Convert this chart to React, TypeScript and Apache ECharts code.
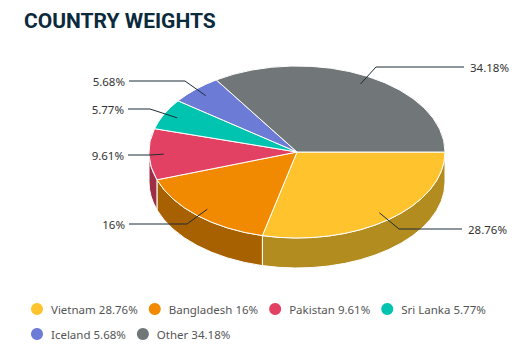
import React, { useEffect, useRef } from "react";
import * as echarts from "echarts";

const categories = ["Vietnam", "Bangladesh", "Pakistan", "Sri Lanka", "Iceland", "Other"];
const values = [28.76, 16, 9.61, 5.77, 5.68, 34.18];
const valueLabels = ["28.76%", "16%", "9.61%", "5.77%", "5.68%", "34.18%"];
const topColors = ["#FFC42D", "#F18A00", "#E24163", "#00C4B0", "#6C7BD5", "#717679"];
const wallColors = ["#B38C20", "#A86100", "#9E2E46", "#00897B", "#4C5695", "#4F5355"];

// leader-line layout: elbow x, elbow y, end x of each label
const elbowX = [399, 187, 150, 150, 185, 376];
const elbowY = [229, 224, 155, 109, 81, 67];
const endX = [462, 129, 128, 128, 129, 464];

const CX = 297;
const CY = 152;
const RX = 148;
const RY = 86;
const DEPTH = 30;
const ANCHOR = 0.9;

const total = values.reduce((a, b) => a + b, 0);
const pt = (t: number, k = 1, dy = 0): [number, number] => [
  CX + RX * k * Math.cos(t),
  CY + RY * k * Math.sin(t) + dy,
];
const f = (n: number) => n.toFixed(2);

function slicePath(a0: number, a1: number) {
  const p0 = pt(a0);
  const p1 = pt(a1);
  const large = a1 - a0 > Math.PI ? 1 : 0;
  return `M${CX} ${CY}L${f(p0[0])} ${f(p0[1])}A${RX} ${RY} 0 ${large} 1 ${f(p1[0])} ${f(p1[1])}Z`;
}
function wallPath(a0: number, a1: number) {
  const s = Math.max(a0, 0);
  const e = Math.min(a1, Math.PI);
  if (e <= s) return null;
  const p0 = pt(s);
  const p1 = pt(e);
  const q1 = pt(e, 1, DEPTH);
  const q0 = pt(s, 1, DEPTH);
  return `M${f(p0[0])} ${f(p0[1])}A${RX} ${RY} 0 0 1 ${f(p1[0])} ${f(p1[1])}L${f(q1[0])} ${f(q1[1])}A${RX} ${RY} 0 0 0 ${f(q0[0])} ${f(q0[1])}Z`;
}

export default function App() {
  const ref = useRef<HTMLDivElement>(null);
  useEffect(() => {
    const chart = echarts.init(ref.current!, null, { renderer: "svg" });
    let cum = 0;
    const series = values.map((v, i) => {
      const a0 = (cum / total) * 2 * Math.PI;
      cum += v;
      const a1 = (cum / total) * 2 * Math.PI;
      const mid = (a0 + a1) / 2;
      return {
        type: "custom",
        name: `${categories[i]} ${valueLabels[i]}`,
        coordinateSystem: "none",
        data: [v],
        itemStyle: { color: topColors[i] },
        silent: true,
        renderItem: () => {
          const children: any[] = [];
          const wall = wallPath(a0, a1);
          if (wall) {
            children.push({
              type: "path",
              shape: { pathData: wall },
              style: { fill: wallColors[i], stroke: "#FFFFFF", lineWidth: 1, lineJoin: "round" },
            });
          }
          children.push({
            type: "path",
            shape: { pathData: slicePath(a0, a1) },
            style: { fill: topColors[i], stroke: "#FFFFFF", lineWidth: 1, lineJoin: "round" },
          });
          const anchor = pt(mid, ANCHOR);
          children.push({
            type: "polyline",
            shape: {
              points: [anchor, [elbowX[i], elbowY[i]], [endX[i], elbowY[i]]],
            },
            style: { fill: "none", stroke: "#1F2D36", lineWidth: 1 },
          });
          const right = endX[i] > CX;
          children.push({
            type: "text",
            style: {
              text: valueLabels[i],
              x: right ? endX[i] + 6 : endX[i] - 4,
              y: elbowY[i],
              align: right ? "left" : "right",
              verticalAlign: "middle",
              fill: "#333333",
              font: '11.5px "Noto Sans"',
            },
          });
          return { type: "group", children };
        },
      };
    });
    chart.setOption({
      animation: false,
      backgroundColor: "#FFFFFF",
      title: {
        text: "COUNTRY WEIGHTS",
        left: 19,
        top: 5,
        textStyle: { fontFamily: "Roboto", fontWeight: "bold", fontSize: 21, color: "#0B2A3C" },
      },
      legend: {
        left: 26,
        top: 297,
        width: 475,
        icon: "circle",
        itemWidth: 12,
        itemHeight: 12,
        itemGap: 11,
        selectedMode: false,
        textStyle: { fontFamily: "Noto Sans", fontSize: 11.5, lineHeight: 14, color: "#555555", padding: [0, 0, 0, 3] },
      },
      series,
    });
    return () => chart.dispose();
  }, []);
  return <div ref={ref} style={{ position: "absolute", left: 0, top: 0, width: 519, height: 355 }} />;
}
